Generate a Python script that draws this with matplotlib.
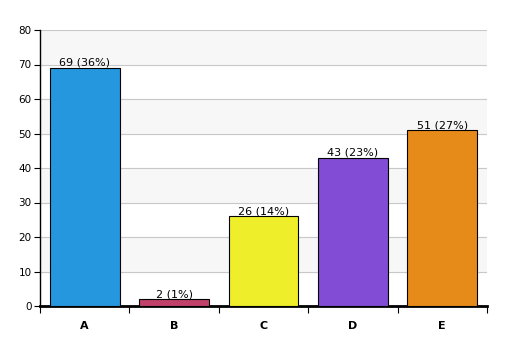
import matplotlib.pyplot as plt

# Dados do gráfico
categorias = ["A", "B", "C", "D", "E"]
valores = [69, 2, 26, 43, 51]
percentuais = [36, 1, 14, 23, 27]
cores = ["#2597de", "#c0406a", "#eeee2a", "#834cd4", "#e68a1a"]

fig = plt.figure(figsize=(5.07, 3.56), dpi=100)
ax = fig.add_axes([40 / 507, 50 / 356, 447 / 507, 276 / 356])

# Faixas alternadas no fundo
for y0 in range(10, 80, 20):
    ax.axhspan(y0, y0 + 10, color="#f7f7f7", zorder=0)
for y in range(10, 81, 10):
    ax.axhline(y, color="#c8c8c8", linewidth=0.8, zorder=1)

x = list(range(len(categorias)))
ax.bar(x, valores, width=0.78, color=cores, edgecolor="black", linewidth=0.8, zorder=3)

for xi, v, p in zip(x, valores, percentuais):
    ax.text(xi, v, f"{v} ({p}%)", ha="center", va="bottom", fontsize=8, zorder=4)

ax.set_xlim(-0.5, len(categorias) - 0.5)
ax.set_ylim(0, 80)
ax.set_yticks(range(0, 81, 10))
ax.set_xticks([i - 0.5 for i in range(len(categorias) + 1)], minor=False)
ax.set_xticklabels([])
ax.set_xticks(x, minor=True)
ax.set_xticklabels(categorias, minor=True, fontweight="bold", fontsize=8)
ax.tick_params(axis="x", which="major", length=5, direction="out")
ax.tick_params(axis="x", which="minor", length=0, pad=11)
ax.tick_params(axis="y", length=4, labelsize=7.5, pad=2)

for lado in ["top", "right"]:
    ax.spines[lado].set_visible(False)
ax.spines["bottom"].set_linewidth(2)
ax.spines["left"].set_linewidth(1)

fig.savefig("out.png", dpi=100)
